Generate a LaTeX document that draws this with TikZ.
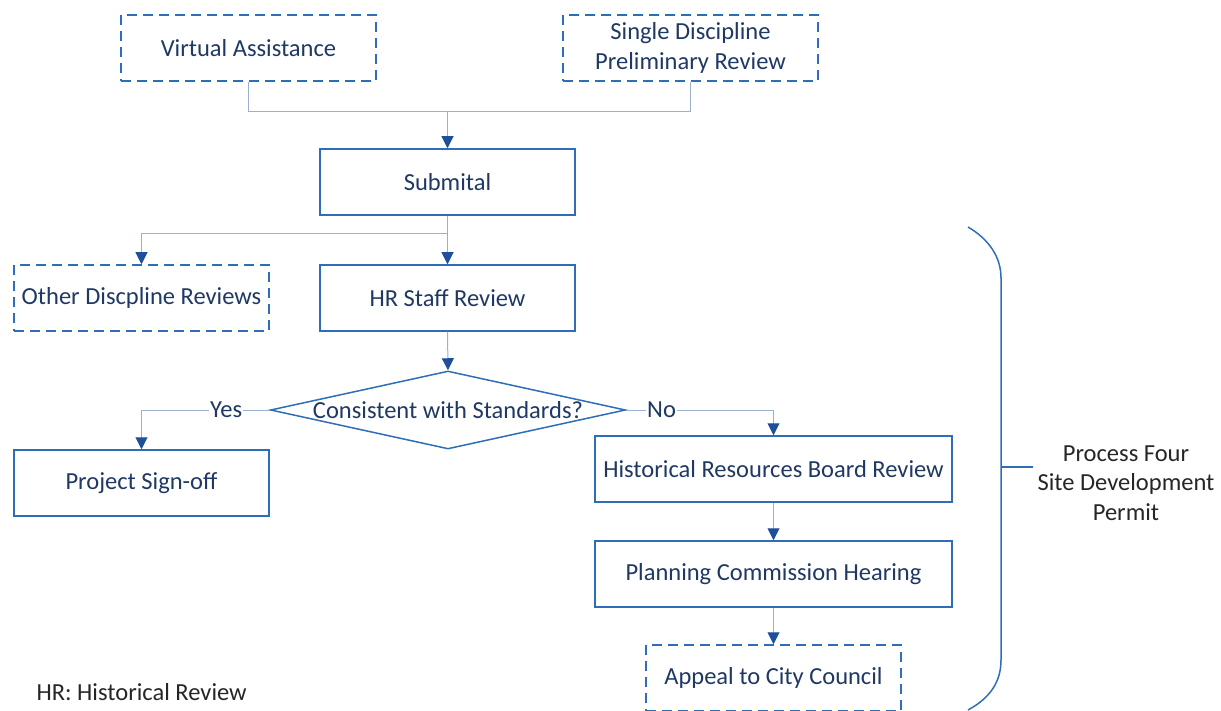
\documentclass[tikz,border=0pt]{standalone}
\usepackage{fontspec}
\setmainfont{Carlito}
\usetikzlibrary{arrows.meta,shapes.geometric}
\definecolor{boxblue}{HTML}{2E6DB8}
\definecolor{textnavy}{HTML}{1F3864}
\definecolor{linkgrey}{HTML}{9AB0CE}
\definecolor{tipblue}{HTML}{1F4E9A}
\begin{document}
\begin{tikzpicture}[x=1pt,y=-1pt,
  every node/.style={font=\fontsize{24.5}{29.5}\selectfont},
  stepbox/.style={draw=boxblue,line width=1.5pt,text=textnavy,minimum width=255pt,
    minimum height=66pt,inner sep=0pt,align=center},
  widebox/.style={stepbox,minimum width=357pt},
  optbox/.style={stepbox,dash pattern=on 10pt off 6pt},
  decision/.style={diamond,draw=boxblue,line width=1.5pt,text=textnavy,
    minimum width=355pt,minimum height=78pt,inner sep=0pt},
  link/.style={draw=linkgrey,line width=1pt},
  arrow/.style={link,-{Triangle[width=12pt,length=12pt,color=tipblue]}},
  tag/.style={fill=white,text=textnavy,inner sep=1pt}]
  \useasboundingbox (0,0) rectangle (1221,711);
  % top inputs
  \node[optbox] (virtual) at (248.5,48) {Virtual Assistance};
  \node[optbox] (single) at (690.5,48) {Single Discipline\\Preliminary Review};
  \node[stepbox] (submital) at (447.5,182) {Submital};
  \coordinate (merge) at (447.5,112);
  \draw[link] (virtual.south) |- (merge);
  \draw[link] (single.south) |- (merge);
  \draw[arrow] (merge) -- (submital.north);
  % reviews
  \node[optbox] (other) at (141.5,298) {Other Discpline Reviews};
  \node[stepbox] (staff) at (447.5,298) {HR Staff Review};
  \coordinate (split) at (447.5,234);
  \draw[link] (submital.south) -- (split);
  \draw[arrow] (split) -| (other.north);
  \draw[arrow] (split) -- (staff.north);
  % decision
  \node[decision] (standards) at (448,410) {\makebox[0pt]{Consistent with Standards?}};
  \draw[arrow] (staff.south) -- (standards.north);
  \node[stepbox] (signoff) at (141.5,483) {Project Sign-off};
  \node[widebox] (board) at (773.5,469) {Historical Resources Board Review};
  \node[widebox] (planning) at (773.5,574) {Planning Commission Hearing};
  \node[optbox] (appeal) at (773.5,678) {Appeal to City Council};
  \draw[arrow] (standards.west) -| node[tag,pos=0.17]{Yes} (signoff.north);
  \draw[arrow] (standards.east) -| node[tag,pos=0.12]{No} (board.north);
  \draw[arrow] (board.south) -- (planning.north);
  \draw[arrow] (planning.south) -- (appeal.north);
  % process brace
  \coordinate (braceTop) at (968,227);
  \coordinate (braceBot) at (968,710);
  \coordinate (braceMid) at (1001,467);
  \coordinate (braceTip) at (1033,467);
  \draw[draw=boxblue,line width=1.5pt] (braceTop) .. controls (990,240) and (1001,258) .. (1001,278)
    -- (1001,660) .. controls (1001,682) and (990,698) .. (braceBot);
  \draw[draw=boxblue,line width=1.5pt] (braceMid) -- (braceTip);
  \node[text=black!85,align=center] (process) at (1126,483) {Process Four\\Site Development\\Permit};
  \node[text=black!85,anchor=west] (legend) at (33,692) {HR: Historical Review};
\end{tikzpicture}
\end{document}
